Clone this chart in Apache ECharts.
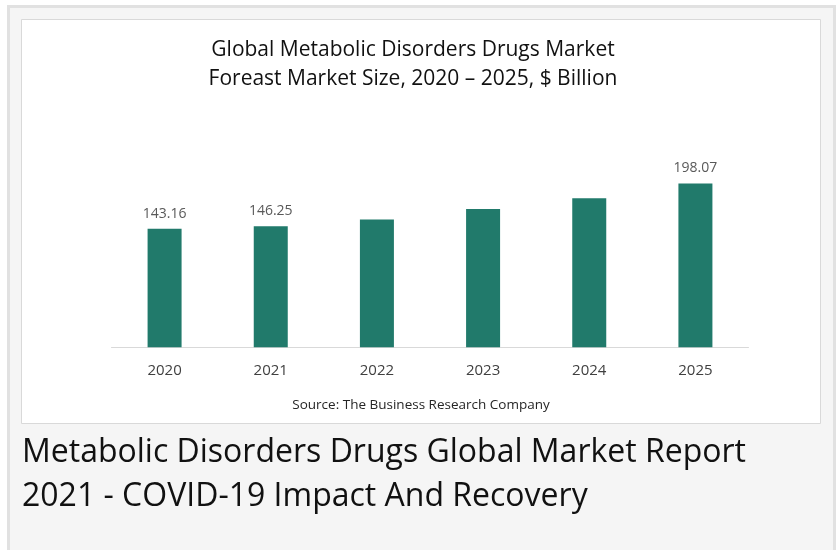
<!DOCTYPE html>
<html>
<head>
<meta charset="utf-8">
<script src="https://cdn.jsdelivr.net/npm/echarts@6/dist/echarts.min.js"></script>
<style>
html,body{margin:0;padding:0;background:#fff;}
#chart{width:836px;height:550px;}
</style>
</head>
<body>
<div id="chart"></div>
<script>
const categories = ['2020', '2021', '2022', '2023', '2024', '2025'];
const marketSize = [143.16, 146.25, 154.4, 167.2, 180.2, 198.07];
const labelledYears = ['2020', '2021', '2025'];
const chartTitleLines = ['Global Metabolic Disorders Drugs Market', 'Foreast Market Size, 2020 – 2025, $ Billion'];
const sourceText = 'Source: The Business Research Company';
const pageTitleLines = ['Metabolic Disorders Drugs Global Market Report', '2021 - COVID-19 Impact And Recovery'];

const chart = echarts.init(document.getElementById('chart'), null, {renderer: 'canvas'});
const barData = marketSize.map((v, i) => ({
  value: v,
  label: {show: labelledYears.includes(categories[i])}
}));

chart.setOption({
  animation: false,
  backgroundColor: '#ffffff',
  graphic: [
    {type: 'rect', z: -10, silent: true, shape: {x: 8.5, y: 6.5, width: 826, height: 560},
     style: {fill: '#f5f5f5', stroke: '#e1e1e1', lineWidth: 3}},
    {type: 'rect', z: -9, silent: true, shape: {x: 21.5, y: 19.5, width: 799, height: 404},
     style: {fill: '#ffffff', stroke: '#d9d9d9', lineWidth: 1}},
    {type: 'text', silent: true, style: {text: chartTitleLines.join('\n'), x: 413, y: 36, align: 'center', verticalAlign: 'top',
      font: '21px "Open Sans"', fill: '#111111', lineHeight: 29}},
    {type: 'text', silent: true, style: {text: sourceText, x: 421, y: 405.5, align: 'center', verticalAlign: 'middle',
      font: '13.5px "Open Sans"', fill: '#262626'}},
    {type: 'text', silent: true, style: {text: pageTitleLines.join('\n'), x: 22, y: 431, align: 'left', verticalAlign: 'top',
      font: '32px "Open Sans"', fill: '#111111', lineHeight: 44}}
  ],
  grid: {left: 111.5, right: 87.5, top: 165.3, bottom: 202.7, containLabel: false},
  xAxis: {
    type: 'category',
    data: categories,
    axisTick: {show: false},
    axisLine: {lineStyle: {color: '#d9d9d9', width: 1}},
    axisLabel: {color: '#404040', fontSize: 15, fontFamily: 'Open Sans', margin: 16}
  },
  yAxis: {
    type: 'value', min: 0, max: 220, show: false,
    splitLine: {show: false}
  },
  series: [{
    type: 'bar',
    data: barData,
    barWidth: 34,
    itemStyle: {color: '#217a6b'},
    label: {position: 'top', distance: 8, color: '#595959', fontSize: 14, fontFamily: 'Open Sans'}
  }]
});
</script>
</body>
</html>
